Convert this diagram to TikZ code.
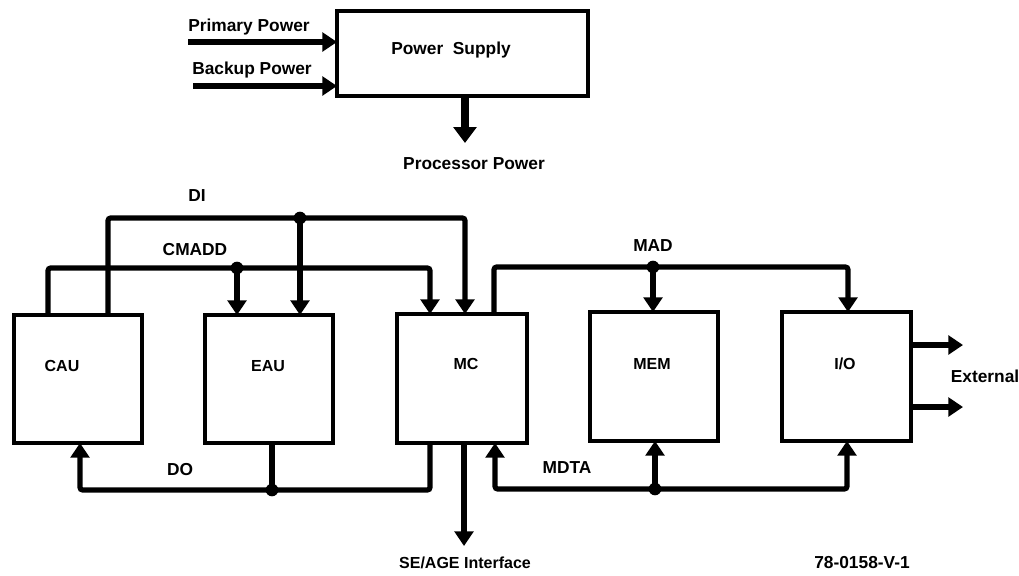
\documentclass[tikz,border=0pt]{standalone}
\usepackage{fontspec}
\setmainfont{Liberation Sans}
\usetikzlibrary{arrows.meta}
\begin{document}
\begin{tikzpicture}[x=0.75pt,y=-0.75pt,
  lbl/.style={font=\fontsize{13}{15}\selectfont\bfseries, inner sep=0pt},
  blbl/.style={font=\fontsize{12}{14}\selectfont\bfseries, inner sep=0pt},
  unit/.style={draw, line width=2.5pt, fill=none},
  bus/.style={line width=3.9pt, rounded corners=2pt, line cap=butt},
  arr/.style={bus, -{Triangle[width=14pt,length=11pt]}},
  bigarr/.style={line width=5.5pt, -{Triangle[width=17pt,length=12pt]}},
  dot/.style={circle, fill=black, inner sep=0pt, minimum size=9.5pt}]
\useasboundingbox (0,0) rectangle (1019,575);
\fill[white] (0,0) rectangle (1019,575);
% Power supply
\draw[unit] (337,11) rectangle (588,96);
\node[lbl] (ps) at (451,50) {Power\ \ Supply};
\coordinate (pin1) at (188,42);
\coordinate (pin1e) at (337,42);
\coordinate (pin2) at (193,86);
\coordinate (pin2e) at (337,86);
\draw[arr] (pin1) -- (pin1e);
\draw[arr] (pin2) -- (pin2e);
\node[lbl] (lp) at (249,27) {Primary Power};
\node[lbl] (lb) at (252,70) {Backup Power};
\coordinate (pout) at (465,96);
\coordinate (poute) at (465,143);
\draw[bigarr] (pout) -- (poute);
\node[lbl] (lpp) at (474,164) {Processor Power};
% Units
\draw[unit] (14,315) rectangle (142,443);
\node[blbl] (cau) at (62,366) {CAU};
\draw[unit] (205,315) rectangle (333,443);
\node[blbl] (eau) at (268,366) {EAU};
\draw[unit] (397,314) rectangle (527,443);
\node[blbl] (mc) at (466,364) {MC};
\draw[unit] (590,312) rectangle (718,441);
\node[blbl] (mem) at (652,364) {MEM};
\draw[unit] (782,312) rectangle (911,441);
\node[blbl] (io) at (845,364) {I/O};
% DI bus
\coordinate (di0) at (108,315);
\coordinate (di1) at (465,314);
\coordinate (di2) at (300,315);
\node[dot] (ddi) at (300,218) {};
\draw[arr] (di0) |- (ddi.center) -| (di1);
\draw[arr] (ddi.center) -- (di2);
\node[lbl] (ldi) at (197,196) {DI};
% CMADD bus
\coordinate (cm0) at (48,315);
\coordinate (cm1) at (430,314);
\coordinate (cm2) at (237,315);
\node[dot] (dcm) at (237,268) {};
\draw[arr] (cm0) |- (dcm.center) -| (cm1);
\draw[arr] (dcm.center) -- (cm2);
\node[lbl] (lcm) at (195,250) {CMADD};
% MAD bus
\coordinate (ma0) at (494,314);
\coordinate (ma1) at (848,312);
\coordinate (ma2) at (653,312);
\node[dot] (dma) at (653,267) {};
\draw[arr] (ma0) |- (dma.center) -| (ma1);
\draw[arr] (dma.center) -- (ma2);
\node[lbl] (lma) at (653,246) {MAD};
% DO bus
\coordinate (do0) at (430,443);
\coordinate (do1) at (80,443);
\coordinate (do2) at (272,443);
\node[dot] (ddo) at (272,490) {};
\draw[arr] (do0) |- (ddo.center) -| (do1);
\draw[bus] (do2) -- (ddo.center);
\node[lbl] (ldo) at (180,470) {DO};
% SE/AGE
\coordinate (se0) at (464,443);
\coordinate (se1) at (464,546);
\draw[arr] (se0) -- (se1);
\node[lbl, font=\fontsize{12}{14}\selectfont\bfseries] (lse) at (465,563) {SE/AGE Interface};
% MDTA bus
\coordinate (md0) at (495,443);
\coordinate (md1) at (847,441);
\coordinate (md2) at (655,441);
\node[dot] (dmd) at (655,489) {};
\draw[arr] (dmd.center) -| (md0);
\draw[arr] (dmd.center) -| (md1);
\draw[arr] (dmd.center) -- (md2);
\node[lbl] (lmd) at (567,468) {MDTA};
% External
\coordinate (ex1) at (911,345);
\coordinate (ex1e) at (963,345);
\coordinate (ex2) at (911,407);
\coordinate (ex2e) at (963,407);
\draw[arr] (ex1) -- (ex1e);
\draw[arr] (ex2) -- (ex2e);
\node[lbl] (lex) at (985,376) {External};
\node[lbl] (fig) at (862,563) {78-0158-V-1};
\end{tikzpicture}
\end{document}
